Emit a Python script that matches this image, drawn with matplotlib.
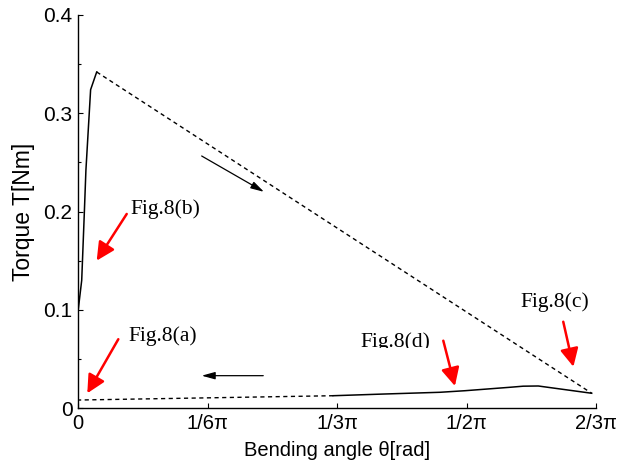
import numpy as np
import matplotlib
matplotlib.use("Agg")
import matplotlib.pyplot as plt
from matplotlib.ticker import MultipleLocator
from matplotlib.transforms import Bbox

# loading branch (solid), from 0 up to peak
load_theta = [0.0, 0.015, 0.026, 0.032, 0.051, 0.0756]
load_T = [0.098, 0.130, 0.2015, 0.242, 0.324, 0.342]

# jump from peak to max angle (dashed)
jump_theta = [0.0756, 2.077]
jump_T = [0.342, 0.015]

# unloading branch (solid)
unload_theta = [2.077, 1.861, 1.800, 1.747, 1.565, 1.464, 1.234, 1.032]
unload_T = [0.015, 0.0224, 0.0222, 0.0211, 0.0176, 0.016, 0.0142, 0.0125]

# return to zero (dashed)
ret_theta = [1.032, 0.0]
ret_T = [0.0125, 0.0081]

xtick_vals = [0, np.pi / 6, np.pi / 3, np.pi / 2, 2 * np.pi / 3]
xtick_labels = ["0", "1/6\u03c0", "1/3\u03c0", "1/2\u03c0", "2/3\u03c0"]
ytick_vals = [0, 0.1, 0.2, 0.3, 0.4]
ytick_labels = ["0", "0.1", "0.2", "0.3", "0.4"]

# direction arrows (tail, head)
black_arrows = [((0.500, 0.2565), (0.752, 0.220)),
                ((0.749, 0.0329), (0.500, 0.0329))]

# red markers: label, text position (left, baseline), arrow tail, arrow tip
fig_labels = ["Fig.8(b)", "Fig.8(a)", "Fig.8(d)", "Fig.8(c)"]
label_pos = [(0.210, 0.1975), (0.203, 0.068), (1.140, 0.062), (1.787, 0.1023)]
red_tails = [(0.197, 0.1975), (0.163, 0.070), (1.477, 0.0685), (1.962, 0.0878)]
red_tips = [(0.0756, 0.150), (0.0376, 0.015), (1.524, 0.0224), (2.003, 0.042)]

fig = plt.figure(figsize=(6.28, 4.72), dpi=100)
ax = fig.add_axes([78 / 628, 1 - 408 / 472, 518 / 628, 393 / 472])

ax.set_xlim(0, 2 * np.pi / 3)
ax.set_ylim(0, 0.4)

ax.plot(load_theta, load_T, color="black", lw=1.1)
ax.plot(jump_theta, jump_T, color="black", lw=1.0, dashes=(3, 2.5))
ax.plot(unload_theta, unload_T, color="black", lw=1.1)
ax.plot(ret_theta, ret_T, color="black", lw=1.0, dashes=(3, 2.5))

for tail, head in black_arrows:
    ax.annotate("", xy=head, xytext=tail,
                arrowprops=dict(arrowstyle="-|>,head_length=0.8,head_width=0.22",
                                color="black", lw=0.9, mutation_scale=10,
                                shrinkA=0, shrinkB=0))

for lab, pos, tail, tip in zip(fig_labels, label_pos, red_tails, red_tips):
    ax.annotate("", xy=tip, xytext=tail,
                arrowprops=dict(arrowstyle="-|>,head_length=1.1,head_width=0.55",
                                color="red", lw=1.8, mutation_scale=10,
                                shrinkA=0, shrinkB=0))
    t = ax.text(pos[0], pos[1], lab, fontsize=15.5, family="Liberation Serif",
                ha="left", va="baseline")
    if lab == "Fig.8(d)":
        # label is cut off at its baseline in the original
        y_clip = ax.transData.transform((0, pos[1]))[1] - 1
        t.set_clip_on(True)
        t.set_clip_path(None)
        t.set_clip_box(Bbox([[0, y_clip], [fig.bbox.width, fig.bbox.height]]))

ax.set_xticks(xtick_vals)
ax.set_xticklabels(xtick_labels)
ax.set_yticks(ytick_vals)
ax.set_yticklabels(ytick_labels)
ax.yaxis.set_minor_locator(MultipleLocator(0.05))

for s in ["top", "right"]:
    ax.spines[s].set_visible(False)
for s in ["left", "bottom"]:
    ax.spines[s].set_linewidth(1.0)

ax.tick_params(which="both", direction="in", width=0.8)
ax.tick_params(which="major", length=3.5)
ax.tick_params(which="minor", length=2.5)
ax.tick_params(axis="x", labelsize=14.5, pad=4)
ax.tick_params(axis="y", labelsize=15, pad=4)
for lbl in ax.get_xticklabels() + ax.get_yticklabels():
    lbl.set_family("Liberation Sans")

ax.set_xlabel("Bending angle \u03b8[rad]", fontsize=14.5, family="Liberation Sans", labelpad=6)
ax.set_ylabel("Torque T[Nm]", fontsize=16.5, family="Liberation Sans", labelpad=6)

fig.savefig("out.png", dpi=100)
